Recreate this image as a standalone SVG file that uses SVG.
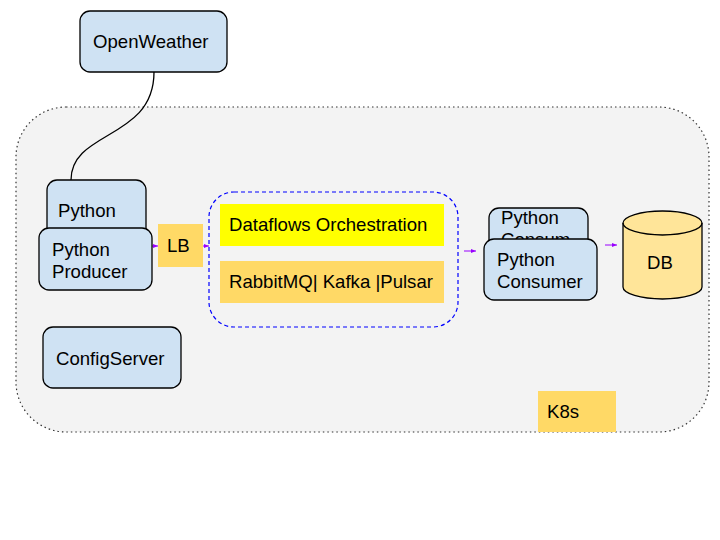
<svg xmlns="http://www.w3.org/2000/svg" width="720" height="540" viewBox="0 0 720 540">
<style>
.t{font-family:"Liberation Sans",Arial,sans-serif;font-size:18.6px;fill:#000}
.blue{fill:#cfe2f3;stroke:#000;stroke-width:1.3}
.c{fill:none;stroke:#9900ff;stroke-width:1}
</style>
<defs>
<marker id="ah" viewBox="0 0 10 10" refX="10" refY="5" markerWidth="5" markerHeight="5" orient="auto" markerUnits="userSpaceOnUse">
<path d="M0,1 L10,5 L0,9 z" fill="#9900ff"/>
</marker>
<clipPath id="clipC"><rect x="489" y="208" width="82" height="40"/></clipPath>
</defs>
<rect width="720" height="540" fill="#fff"/>
<g id="k8s-cluster">
<rect x="16" y="107" width="693" height="325" rx="50" fill="#f3f3f3" stroke="#333" stroke-width="1.2" stroke-dasharray="1.5,3"/>
</g>
<g id="connectors">
<path d="M154,72 C154,140 71,130 71,180" fill="none" stroke="#000" stroke-width="1.3"/>
<line class="c" x1="152" y1="246" x2="158" y2="246" marker-end="url(#ah)"/>
<line class="c" x1="203" y1="246" x2="209" y2="246" marker-end="url(#ah)"/>
<line class="c" x1="464" y1="251" x2="476" y2="251" marker-end="url(#ah)"/>
<line class="c" x1="605" y1="245" x2="617" y2="245" marker-end="url(#ah)"/>
</g>
<g id="openweather">
<rect class="blue" x="80" y="11" width="147" height="61" rx="10"/>
<text class="t" x="93" y="48">OpenWeather</text>
</g>
<g id="python">
<rect class="blue" x="47" y="180" width="99" height="62" rx="10"/>
<text class="t" x="58" y="217">Python</text>
</g>
<g id="python-producer">
<rect class="blue" x="39" y="228" width="113" height="62" rx="10"/>
<text class="t" x="52" y="256">Python</text>
<text class="t" x="52" y="278">Producer</text>
</g>
<g id="lb">
<rect x="158" y="224" width="45" height="43" fill="#ffd966"/>
<text class="t" x="167" y="252">LB</text>
</g>
<g id="dataflow-group">
<rect x="209" y="192" width="249" height="135" rx="25" fill="none" stroke="#0000ff" stroke-width="1.2" stroke-dasharray="4,3"/>
</g>
<g id="dataflows-orchestration">
<rect x="220" y="204" width="224" height="42" fill="#ffff00"/>
<text class="t" x="229" y="231">Dataflows Orchestration</text>
</g>
<g id="brokers">
<rect x="220" y="261" width="224" height="42" fill="#ffd966"/>
<text class="t" x="229" y="288">RabbitMQ| Kafka |Pulsar</text>
</g>
<g id="python-consumer-back">
<rect class="blue" x="489" y="208" width="99" height="50" rx="10"/>
<g clip-path="url(#clipC)">
<text class="t" x="501" y="224">Python</text>
<text class="t" x="501" y="246">Consumer</text>
</g>
</g>
<g id="python-consumer">
<rect class="blue" x="484" y="239" width="113" height="61" rx="10"/>
<text class="t" x="497" y="266">Python</text>
<text class="t" x="497" y="288">Consumer</text>
</g>
<g id="db">
<path d="M623,223 L623,287 A39.5,12 0 0 0 702,287 L702,223 A39.5,12 0 0 0 623,223 Z" fill="#ffe599" stroke="#000" stroke-width="1.3"/>
<path d="M623,223 A39.5,12 0 0 0 702,223" fill="none" stroke="#000" stroke-width="1.3"/>
<text class="t" x="647" y="269">DB</text>
</g>
<g id="configserver">
<rect class="blue" x="43" y="327" width="138" height="61" rx="10"/>
<text class="t" x="56" y="365">ConfigServer</text>
</g>
<g id="k8s-label">
<rect x="538" y="391" width="78" height="41" fill="#ffd966"/>
<text class="t" x="547" y="418">K8s</text>
</g>
</svg>
